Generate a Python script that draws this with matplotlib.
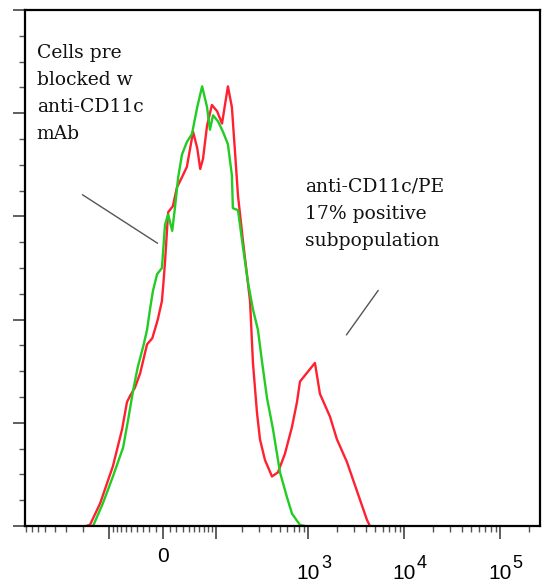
import numpy as np
import matplotlib
matplotlib.use('Agg')
from matplotlib import pyplot as plt
from matplotlib.ticker import FixedLocator, NullFormatter

# anti-CD11c/PE stained cells (red) - fluorescence vs count
red_x = [-184, -167, -128, -90, -68, -58, -52, -43, -34, -23,
         -15, -7, -1, 1, 3.5, 8, 15, 21, 29, 37,
         48, 56, 62, 68, 77, 89, 103, 118, 138, 153,
         166, 179, 203, 242, 260, 287, 309, 349, 414, 479,
         567, 672, 758, 815, 919, 1036, 1169, 1319, 1678, 1984,
         2525, 3210, 4082, 4388]
red_y = [0, 0.5, 11, 29, 47, 60, 63, 67, 74, 88,
         91, 100, 109, 117, 128, 152, 155, 164, 169, 174,
         191, 183, 173, 178, 194, 204, 201, 195, 213, 203,
         181, 160, 138, 109, 79, 55, 42, 32, 24, 26,
         35, 48, 60, 70, 73, 76, 79, 64, 53, 42,
         31, 17, 3, 0]

# cells pre blocked with anti-CD11c mAb (green)
green_x = [-154, -119, -90, -66, -56, -46, -38, -29, -23, -18,
           -14, -8, -1, 3.5, 8, 14, 18, 23, 29, 37,
           46, 56, 66, 77, 84, 92, 106, 121, 138, 153,
           157, 179, 203, 230, 260, 294, 324, 367, 424, 503,
           595, 672, 815, 919]
green_y = [0, 11, 24, 38, 51, 66, 77, 87, 95, 106,
           114, 122, 125, 146, 151, 143, 154, 169, 180, 186,
           190, 203, 213, 203, 192, 199, 196, 191, 185, 170,
           154, 153, 135, 118, 105, 95, 80, 62, 47, 26,
           14, 6, 0.5, 0]

major_x = [-100, 0, 100, 1000, 10000, 100000]
minor_x = ([-m * 100 for m in range(2, 9)] + [-m * 10 for m in range(1, 10)]
           + [m * 10 for m in range(1, 10)]
           + [m * 10 ** e for e in (2, 3, 4) for m in range(2, 10)] + [200000])
decades = [3, 4, 5]

fig = plt.figure(figsize=(5.48, 5.83), dpi=100)
ax = fig.add_axes([0.0456, 0.0978, 0.9398, 0.885])
ax.set_xscale('asinh', linear_width=60)

ax.plot(red_x, red_y, color='#ff2030', lw=1.7)
ax.plot(green_x, green_y, color='#22cc22', lw=1.7)

ax.set_xlim(-820, 262144)
ax.set_ylim(0, 250)

for s in ax.spines.values():
    s.set_linewidth(1.6)

ax.xaxis.set_major_locator(FixedLocator(major_x))
ax.xaxis.set_minor_locator(FixedLocator(minor_x))
ax.xaxis.set_major_formatter(NullFormatter())
ax.xaxis.set_minor_formatter(NullFormatter())
ax.yaxis.set_major_locator(FixedLocator(np.arange(0, 251, 50)))
ax.yaxis.set_minor_locator(FixedLocator(np.arange(0, 251, 12.5)))
ax.yaxis.set_major_formatter(NullFormatter())
ax.tick_params(axis='both', which='major', direction='out', length=9, width=1.1, color='#333333')
ax.tick_params(axis='both', which='minor', direction='out', length=4.5, width=1.0, color='#555555')

# tick labels (0 and powers of ten)
tr = ax.get_xaxis_transform()
ax.text(0, -0.06, '0', transform=tr, ha='center', va='center',
        fontsize=15, family='Liberation Sans')
for d in decades:
    ax.text(10 ** d, -0.103, '10', transform=tr, ha='center', va='baseline',
            fontsize=15, family='Liberation Sans')
    ax.annotate(str(d), xy=(10 ** d, -0.103), xycoords=tr, xytext=(9, 8),
                textcoords='offset points', ha='left', va='baseline',
                fontsize=13, family='Liberation Sans')

ax.text(0.023, 0.935, 'Cells pre\nblocked w\nanti-CD11c\nmAb', transform=ax.transAxes,
        ha='left', va='top', fontsize=13.5, family='DejaVu Serif', linespacing=1.65,
        color='#111111')
ax.text(0.544, 0.675, 'anti-CD11c/PE\n17% positive\nsubpopulation', transform=ax.transAxes,
        ha='left', va='top', fontsize=13.5, family='DejaVu Serif', linespacing=1.65,
        color='#111111')

ax.annotate('', xy=(0.262, 0.545), xytext=(0.107, 0.645), xycoords='axes fraction',
            arrowprops=dict(arrowstyle='-', color='#555555', lw=1.0))
ax.annotate('', xy=(0.621, 0.366), xytext=(0.689, 0.461), xycoords='axes fraction',
            arrowprops=dict(arrowstyle='-', color='#555555', lw=1.0))

fig.savefig('out.png', dpi=100)
